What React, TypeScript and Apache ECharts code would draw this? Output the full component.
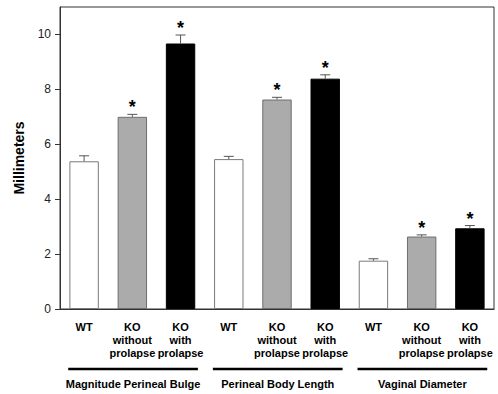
import React, { useEffect, useRef } from "react";
import * as echarts from "echarts";

const measures = ["Magnitude Perineal Bulge", "Perineal Body Length", "Vaginal Diameter"];
const genotypes = ["WT", "KO\nwithout\nprolapse", "KO\nwith\nprolapse"];
const means = [5.38, 7.0, 9.67, 5.46, 7.63, 8.39, 1.76, 2.64, 2.94];
const sem = [0.2, 0.09, 0.31, 0.1, 0.08, 0.14, 0.07, 0.06, 0.1];
const significant = [false, true, true, false, true, true, false, true, true];
const yTicks = [0, 2, 4, 6, 8, 10];
const yMax = 11;

const fills = ["#ffffff", "#ababab", "#000000"];
const borders = ["#7a7a7a", "#6e6e6e", "#000000"];
const FONT = "'Liberation Sans', Arial, Helvetica, sans-serif";

export default function App() {
  const ref = useRef<HTMLDivElement>(null);
  useEffect(() => {
    if (!ref.current) return;
    const chart = echarts.init(ref.current, undefined, { renderer: "svg" });
    const categories = measures.flatMap((m) => genotypes.map((g) => m + "|" + g));
    const option: any = {
      animation: false,
      backgroundColor: "#ffffff",
      textStyle: { fontFamily: FONT },
      grid: {
        left: 60,
        right: 4,
        top: 7,
        bottom: 85,
        show: true,
        borderColor: "#333",
        borderWidth: 1,
        backgroundColor: "transparent",
      },
      xAxis: {
        type: "category",
        data: categories,
        axisLine: { show: true, lineStyle: { color: "#333", width: 1 } },
        axisTick: { show: false },
        splitLine: { show: false },
        axisLabel: {
          interval: 0,
          formatter: (v: string) => v.split("|")[1],
          fontSize: 11,
          fontWeight: "bold",
          lineHeight: 13,
          margin: 11,
          color: "#000",
          fontFamily: FONT,
        },
      },
      yAxis: {
        type: "value",
        min: 0,
        max: yMax,
        name: "Millimeters",
        nameLocation: "middle",
        nameGap: 34,
        nameTextStyle: { fontSize: 14, fontWeight: "bold", color: "#000", fontFamily: FONT },
        axisLine: { show: true, lineStyle: { color: "#333", width: 1 } },
        axisTick: { show: true, length: 5, customValues: yTicks, lineStyle: { color: "#333" } },
        axisLabel: { customValues: yTicks, fontSize: 12, margin: 9, color: "#222", fontFamily: FONT },
        splitLine: { show: false },
      },
      series: [
        {
          type: "bar",
          barWidth: "61%",
          data: means.map((v, i) => ({
            value: v,
            itemStyle: { color: fills[i % 3], borderColor: borders[i % 3], borderWidth: 1 },
          })),
        },
        {
          type: "custom",
          clip: false,
          z: 5,
          data: means.map((v, i) => [i, v, sem[i], significant[i] ? 1 : 0]),
          encode: { x: 0, y: 1 },
          renderItem: (params: any, api: any) => {
            const x = api.value(0);
            const v = api.value(1);
            const e = api.value(2);
            const s = api.value(3);
            const base = api.coord([x, v]);
            const top = api.coord([x, v + e]);
            const children: any[] = [
              { type: "line", shape: { x1: base[0], y1: base[1], x2: base[0], y2: top[1] }, style: { stroke: "#555", lineWidth: 1 } },
              { type: "line", shape: { x1: base[0] - 5, y1: top[1], x2: base[0] + 5, y2: top[1] }, style: { stroke: "#555", lineWidth: 1 } },
            ];
            if (s) {
              children.push({
                type: "text",
                x: base[0],
                y: top[1] - 7,
                style: { text: "*", fontSize: 18, fontWeight: "bold", fill: "#000", align: "center", verticalAlign: "middle", fontFamily: FONT },
              });
            }
            return { type: "group", children };
          },
        },
        {
          type: "custom",
          clip: false,
          data: measures.map((m, i) => [i * 3, 0]),
          encode: { x: 0, y: 1 },
          renderItem: (params: any, api: any) => {
            const idx = params.dataIndex;
            const c0 = api.coord([idx * 3, 0]);
            const c2 = api.coord([idx * 3 + 2, 0]);
            const cw = api.size([1, 0])[0];
            const left = c0[0] - 0.33 * cw;
            const right = c2[0] + 0.36 * cw;
            const y = c0[1];
            return {
              type: "group",
              children: [
                { type: "line", shape: { x1: left, y1: y + 60, x2: right, y2: y + 60 }, style: { stroke: "#000", lineWidth: 2.5 } },
                {
                  type: "text",
                  x: (left + right) / 2,
                  y: y + 75,
                  style: { text: measures[idx], fontSize: 11, fontWeight: "bold", fill: "#000", align: "center", verticalAlign: "middle", fontFamily: FONT },
                },
              ],
            };
          },
        },
      ],
    };
    chart.setOption(option);
    return () => chart.dispose();
  }, []);
  return (
    <div
      ref={ref}
      style={{ position: "absolute", left: 0, top: 0, width: 498, height: 394, background: "#fff" }}
    />
  );
}
